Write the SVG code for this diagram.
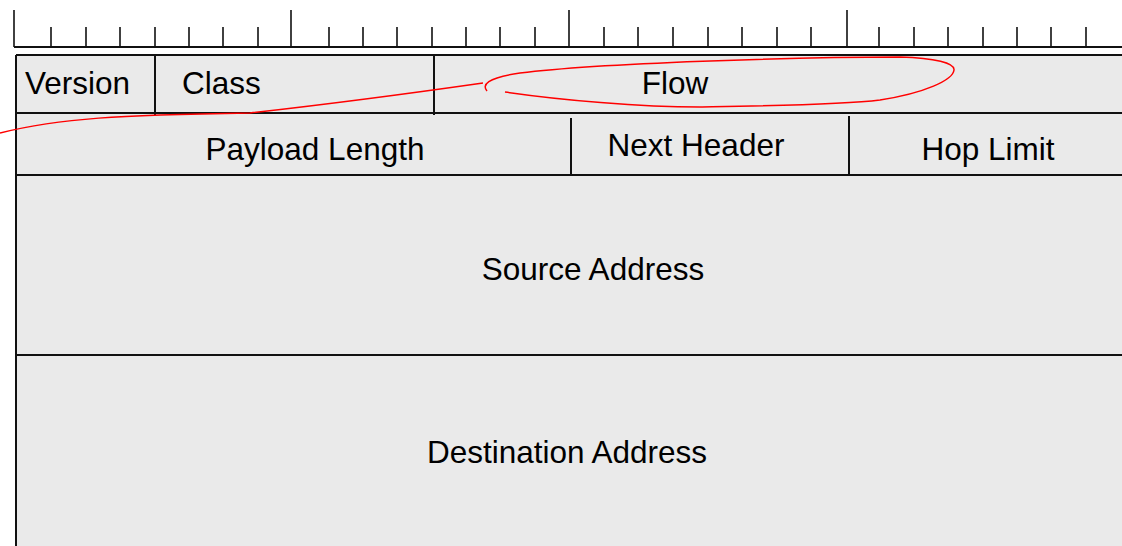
<svg xmlns="http://www.w3.org/2000/svg" width="1122" height="546" viewBox="0 0 1122 546">
<style>
.ln{stroke:#111;stroke-width:2;fill:none}
.tk{stroke:#111;stroke-width:1.6}
.t{font-family:"Liberation Sans",Arial,sans-serif;font-size:31.5px;fill:#000}
.m{text-anchor:middle}
.red{stroke:#f00;stroke-width:1.5;fill:none}
</style>
<rect x="0" y="0" width="1122" height="546" fill="#fff"/>
<g id="ruler">
<line class="ln" x1="14" y1="47" x2="1122" y2="47"/>
<g class="tk">
<line x1="14" y1="10" x2="14" y2="47"/>
<line x1="51" y1="27" x2="51" y2="47"/>
<line x1="86" y1="27" x2="86" y2="47"/>
<line x1="120" y1="27" x2="120" y2="47"/>
<line x1="155" y1="27" x2="155" y2="47"/>
<line x1="189" y1="27" x2="189" y2="47"/>
<line x1="223" y1="27" x2="223" y2="47"/>
<line x1="258" y1="27" x2="258" y2="47"/>
<line x1="291" y1="10" x2="291" y2="47"/>
<line x1="329" y1="27" x2="329" y2="47"/>
<line x1="363" y1="27" x2="363" y2="47"/>
<line x1="397" y1="27" x2="397" y2="47"/>
<line x1="432" y1="27" x2="432" y2="47"/>
<line x1="466" y1="27" x2="466" y2="47"/>
<line x1="500" y1="27" x2="500" y2="47"/>
<line x1="535" y1="27" x2="535" y2="47"/>
<line x1="569" y1="10" x2="569" y2="47"/>
<line x1="604" y1="27" x2="604" y2="47"/>
<line x1="638" y1="27" x2="638" y2="47"/>
<line x1="673" y1="27" x2="673" y2="47"/>
<line x1="708" y1="27" x2="708" y2="47"/>
<line x1="742" y1="27" x2="742" y2="47"/>
<line x1="777" y1="27" x2="777" y2="47"/>
<line x1="811" y1="27" x2="811" y2="47"/>
<line x1="847" y1="10" x2="847" y2="47"/>
<line x1="879" y1="27" x2="879" y2="47"/>
<line x1="914" y1="27" x2="914" y2="47"/>
<line x1="948" y1="27" x2="948" y2="47"/>
<line x1="983" y1="27" x2="983" y2="47"/>
<line x1="1017" y1="27" x2="1017" y2="47"/>
<line x1="1051" y1="27" x2="1051" y2="47"/>
<line x1="1086" y1="27" x2="1086" y2="47"/>
</g>
</g>
<g id="table">
<rect x="16" y="55" width="1110" height="495" fill="#eaeaea"/>
<line class="ln" x1="16" y1="55" x2="1122" y2="55"/>
<line class="ln" x1="16" y1="55" x2="16" y2="546"/>
<line class="ln" x1="16" y1="113" x2="1122" y2="113"/>
<line class="ln" x1="16" y1="175" x2="1122" y2="175"/>
<line class="ln" x1="16" y1="355" x2="1122" y2="355"/>
</g>
<g id="version"><text class="t" x="25" y="94">Version</text></g>
<g id="class"><line class="ln" x1="155" y1="55" x2="155" y2="115"/><text class="t" x="182" y="94">Class</text></g>
<g id="flow"><line class="ln" x1="434" y1="55" x2="434" y2="115"/><text class="t m" x="675" y="94">Flow</text></g>
<g id="payload-length"><text class="t m" x="315" y="160">Payload Length</text></g>
<g id="next-header"><line class="ln" x1="571" y1="118" x2="571" y2="176"/><text class="t m" x="696" y="156">Next Header</text></g>
<g id="hop-limit"><line class="ln" x1="849" y1="116" x2="849" y2="176"/><text class="t m" x="988" y="160">Hop Limit</text></g>
<g id="source-address"><text class="t m" x="593" y="280">Source Address</text></g>
<g id="destination-address"><text class="t m" x="567" y="463">Destination Address</text></g>
<g id="connectors">
<path class="red" d="M0,133 C60,118 120,115 250,113 C330,104 420,92 483,83"/>
<path class="red" d="M487,91 C482,85 486,78 520,73 C600,63 800,57 900,57 C935,58 955,63 954,70 C953,80 925,93 880,100 C840,105 760,106 700,107 C640,107 560,100 505,92"/>
</g>
</svg>
